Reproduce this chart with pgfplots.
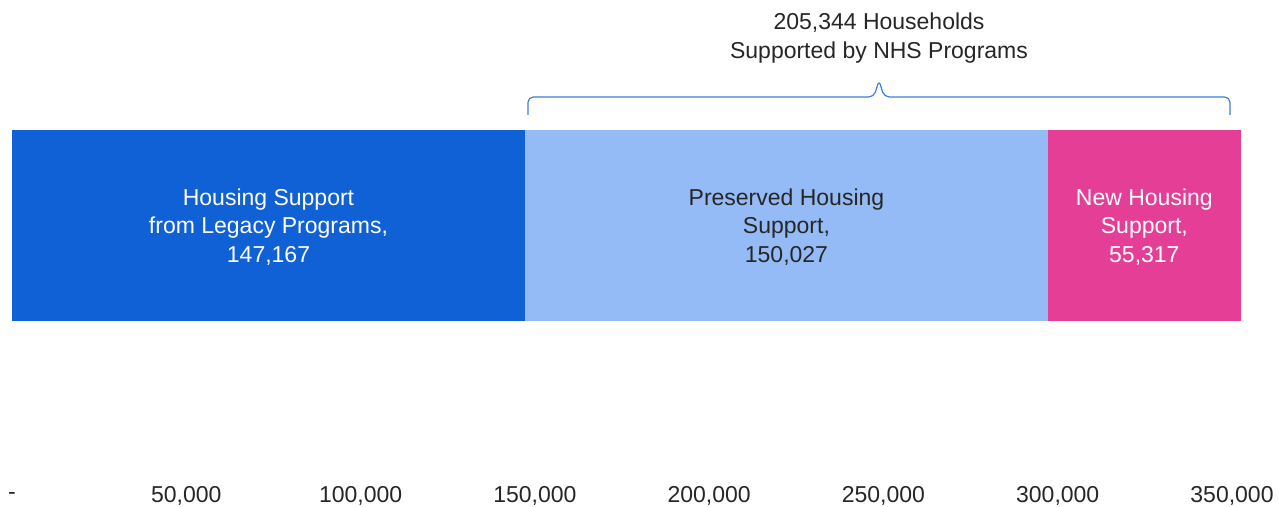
\documentclass[border=0pt]{standalone}
\usepackage{fontspec}
\setmainfont{Liberation Sans}
\usepackage{pgfplots}
\pgfplotsset{compat=1.18}

\definecolor{legacyblue}{HTML}{1060D6}
\definecolor{preservedblue}{HTML}{94BBF6}
\definecolor{newpink}{HTML}{E53E96}
\definecolor{bracketblue}{HTML}{3D7EDC}
\definecolor{txt}{HTML}{262626}

% 1 px of the reference = 0.75pt
\newcommand{\lbl}{\fontsize{17.25}{21.4}\selectfont}

\begin{document}
\begin{tikzpicture}
\begin{axis}[
    xbar stacked,
    scale only axis,
    width=915pt, height=369.75pt,
    xmin=0, xmax=350000,
    ymin=0, ymax=493,
    enlargelimits=false,
    clip=false,
    bar width=143.25pt,
    hide y axis,
    axis x line*=bottom,
    x axis line style={draw=none},
    tick style={draw=none},
    xtick={0,50000,100000,150000,200000,250000,300000,350000},
    xticklabels={{-\hspace{7pt}},{50,000},{100,000},{150,000},{200,000},{250,000},{300,000},{350,000}},
    xticklabel style={font=\lbl, text=txt, anchor=center, yshift=-2.5pt},
]
\addplot[draw=none, fill=legacyblue] coordinates {(147167,267.5)};
\addplot[draw=none, fill=preservedblue] coordinates {(150027,267.5)};
\addplot[draw=none, fill=newpink] coordinates {(55317,267.5)};

% anchor points for the segment labels (segment centres)
\coordinate (lab1) at (axis cs:73583.5,266);
\coordinate (lab2) at (axis cs:222180.5,266);
\coordinate (lab3) at (axis cs:324852.5,266);

% brace over the NHS programs
\draw[bracketblue, line width=0.9pt, rounded corners=4pt]
    (axis cs:148033,378) -- (axis cs:148033,396) -- (axis cs:247295,396)
    -- (axis cs:248730,413) -- (axis cs:250164,396) -- (axis cs:349426,396)
    -- (axis cs:349426,378);
\coordinate (ttl) at (axis cs:248730,454.5);

\coordinate (bbll) at (axis cs:-3443,-13);
\coordinate (bbur) at (axis cs:363484,493);
\end{axis}
\node[align=center, text=white, font=\lbl] at (lab1) {Housing Support\\from Legacy Programs,\\147,167};
\node[align=center, text=txt, font=\lbl] at (lab2) {Preserved Housing\\Support,\\150,027};
\node[align=center, text=white, font=\lbl] at (lab3) {New Housing\\Support,\\55,317};
\node[align=center, text=txt, font=\fontsize{17.25}{21.75}\selectfont] at (ttl)
    {205,344 Households\\Supported by NHS Programs};
\pgfresetboundingbox
\path (bbll) rectangle (bbur);
\end{tikzpicture}
\end{document}
